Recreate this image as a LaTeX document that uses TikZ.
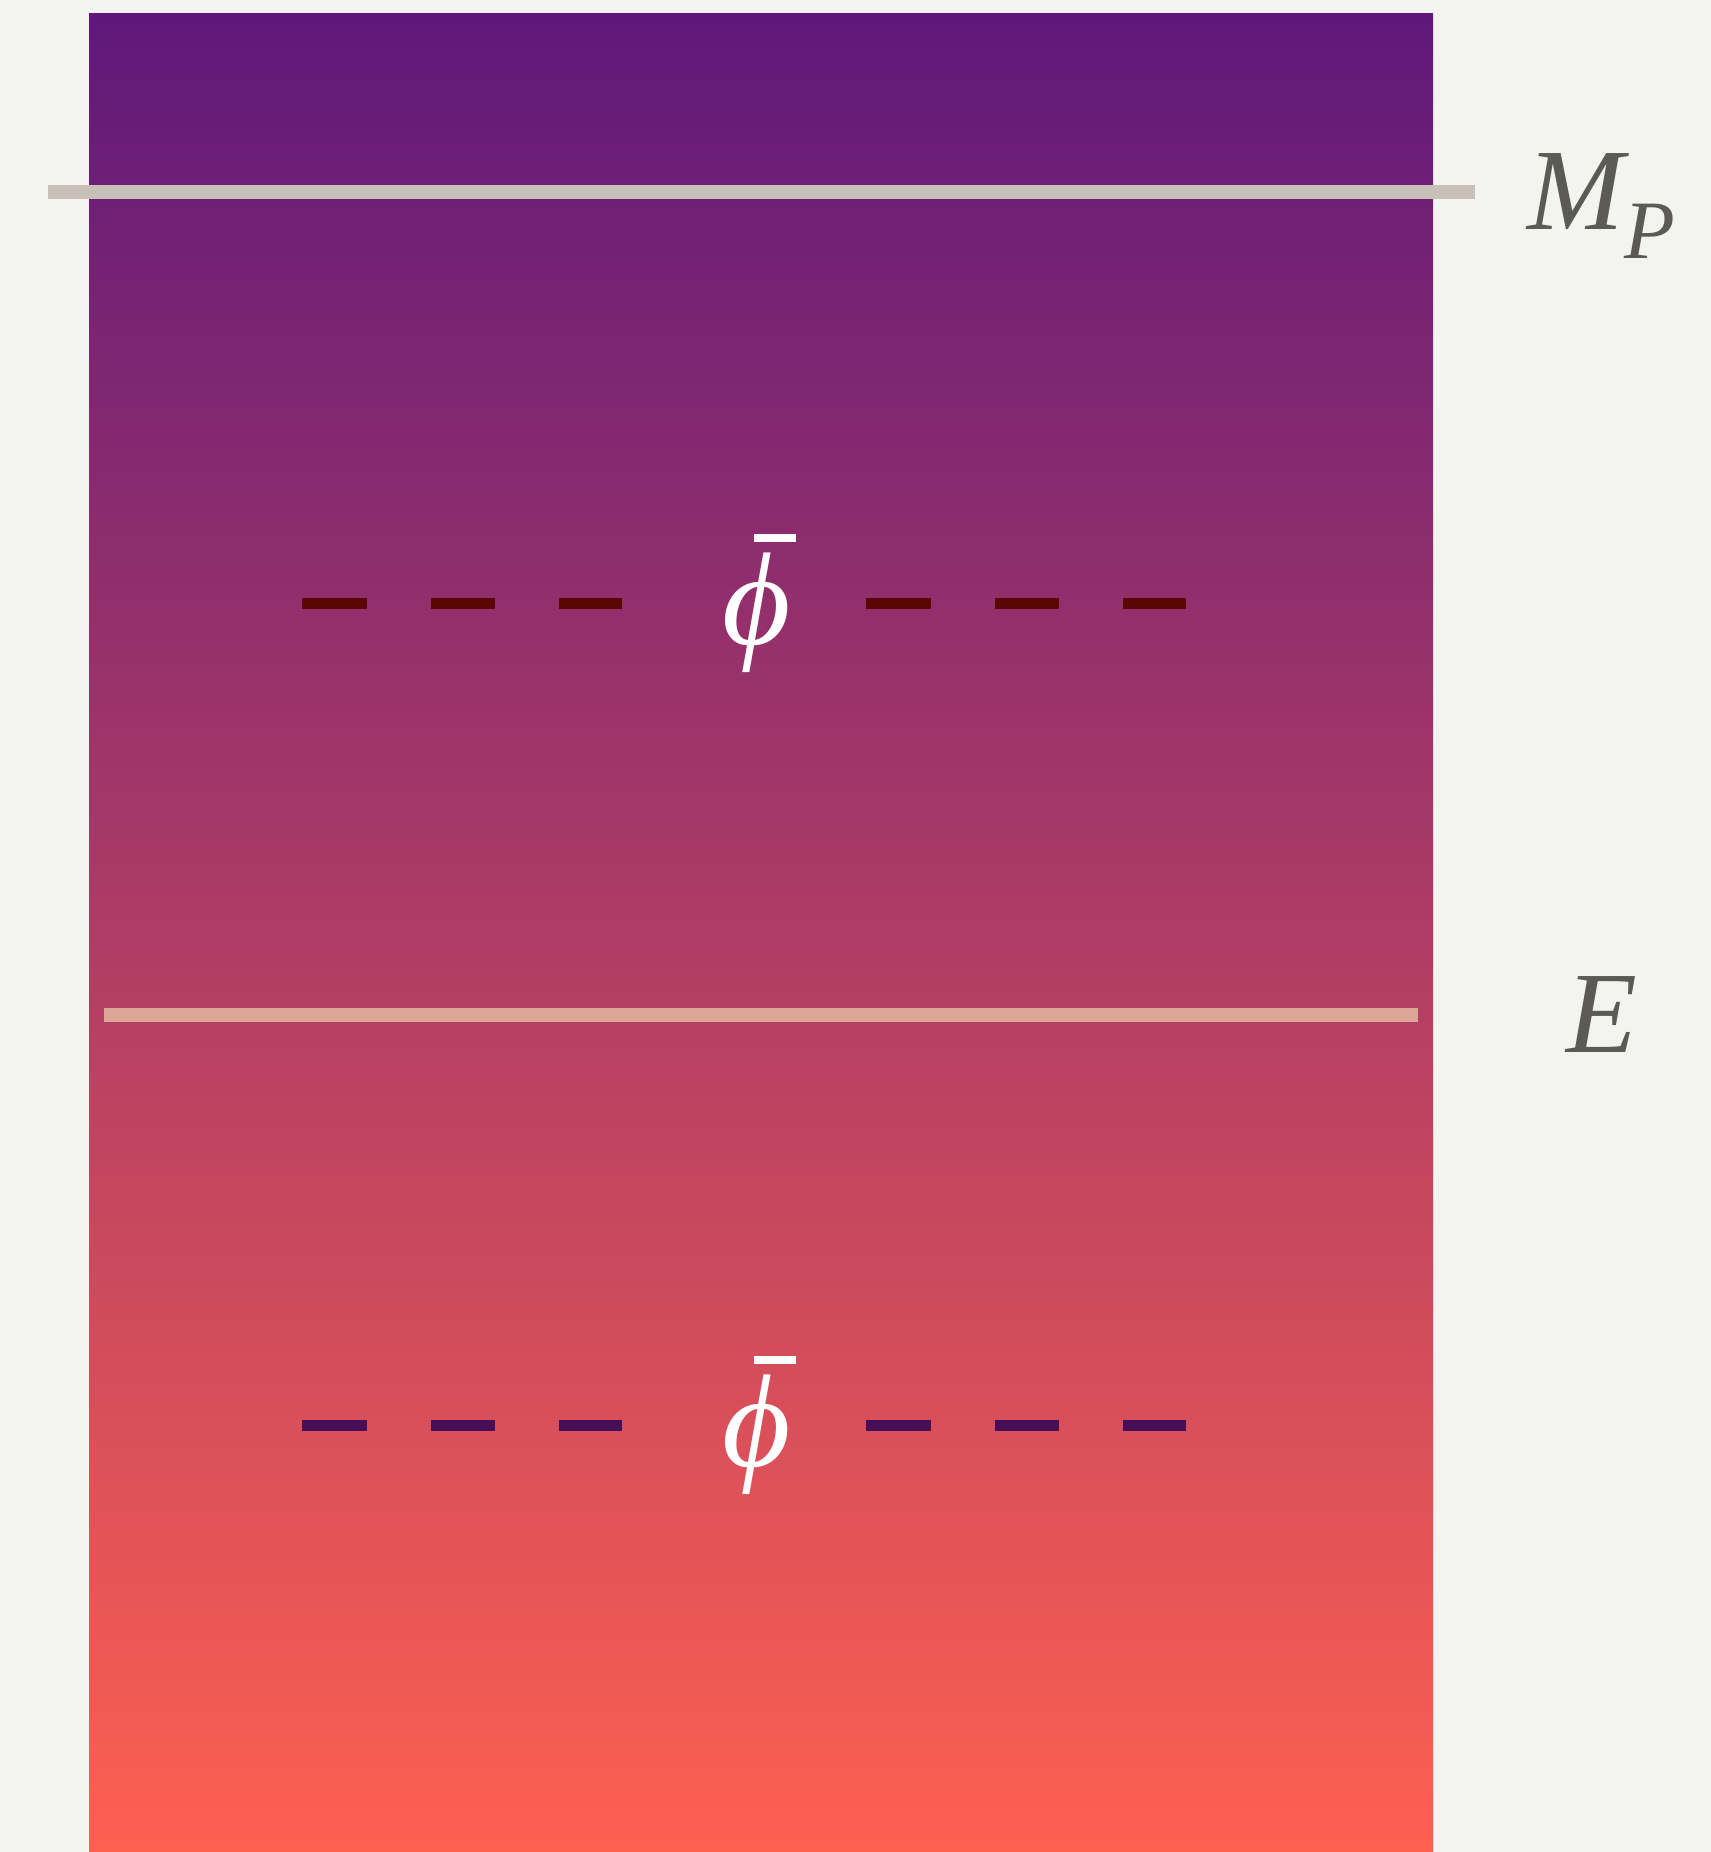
\documentclass[tikz,border=0pt]{standalone}
\usepackage{graphicx}
\usepackage{fontspec}
\newfontfamily\labelfont{Liberation Serif}
\definecolor{bgpaper}{HTML}{F3F3EF}
\definecolor{gradtop}{HTML}{5F187A}
\definecolor{gradbot}{HTML}{FE6050}
\definecolor{mpline}{HTML}{C9C1B9}
\definecolor{eline}{HTML}{DCA595}
\definecolor{dashtop}{HTML}{5C0505}
\definecolor{dashbot}{HTML}{460E56}
\definecolor{labelgray}{HTML}{5B5A55}
\newcommand{\phibarbig}{{\labelfont\itshape\fontsize{66}{66}\selectfont\rlap{\kern16pt\rule[51pt]{21pt}{4pt}}ϕ}}
\tikzset{
  scaleline/.style={line width=7pt, line cap=butt},
  fielddash/.style={line width=5.5pt, line cap=butt, dash pattern=on 32.25pt off 32pt},
  scalelabel/.style={inner sep=0pt, anchor=base west, text=labelgray},
  fieldlabel/.style={inner sep=0pt, anchor=base west, text=white}
}
\begin{document}
\begin{tikzpicture}[x=0.5pt,y=-0.5pt]
  \useasboundingbox (0,0) rectangle (1711,1852);
  \fill[bgpaper] (0,0) rectangle (1711,1852);
  \shade[top color=gradtop, bottom color=gradbot] (89,13) rectangle (1433,1852);
  % Planck scale line
  \coordinate (mpL) at (48,192);
  \coordinate (mpR) at (1475,192);
  \draw[scaleline, mpline] (mpL) -- (mpR);
  % E line
  \coordinate (eL) at (104,1014.5);
  \coordinate (eR) at (1418,1014.5);
  \draw[scaleline, eline] (eL) -- (eR);
  % labels
  \node[scalelabel] (mp) at (1527,229) {\labelfont\itshape\fontsize{58}{58}\selectfont M\raisebox{-14.5pt}{\fontsize{41.5}{41.5}\selectfont P}};
  \node[scalelabel] (e) at (1566,1052) {\labelfont\itshape\fontsize{58}{58}\selectfont E};
  % top field
  \node[fieldlabel] (phitop) at (722,644) {\phibarbig};
  \coordinate (ta) at (302,603.5);
  \coordinate (tb) at (622,603.5);
  \coordinate (tc) at (866,603.5);
  \coordinate (td) at (1186,603.5);
  \draw[fielddash, dashtop] (ta) -- (tb);
  \draw[fielddash, dashtop] (tc) -- (td);
  % bottom field
  \node[fieldlabel] (phibot) at (722,1466) {\phibarbig};
  \coordinate (ba) at (302,1425);
  \coordinate (bb) at (622,1425);
  \coordinate (bc) at (866,1425);
  \coordinate (bd) at (1186,1425);
  \draw[fielddash, dashbot] (ba) -- (bb);
  \draw[fielddash, dashbot] (bc) -- (bd);
\end{tikzpicture}
\end{document}
